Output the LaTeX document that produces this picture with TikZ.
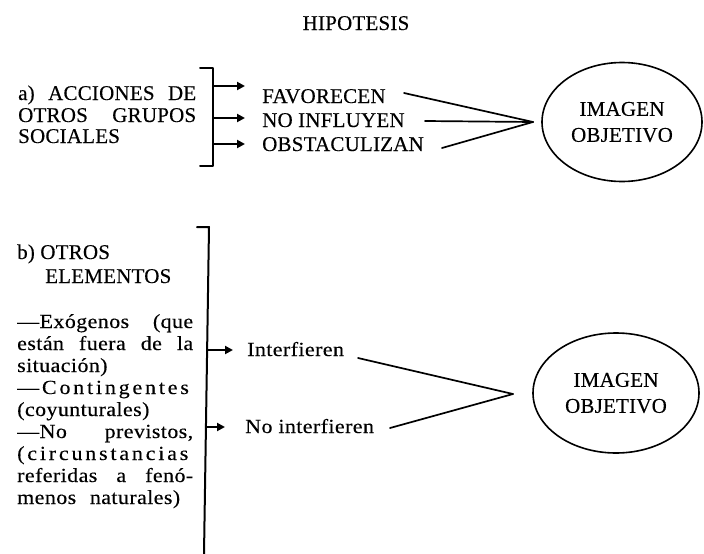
\documentclass[tikz,border=0pt]{standalone}
\usepackage{fontspec}
\setmainfont{Liberation Serif}
\newfontfamily\capsfont[FakeStretch=1.0,LetterSpace=1,FakeBold=0.3]{Liberation Serif}
\newfontfamily\lowfont[FakeStretch=1.1,LetterSpace=2,FakeBold=0.3]{Liberation Serif}
\newfontfamily\lowwide[FakeStretch=1.1,LetterSpace=14,FakeBold=0.3]{Liberation Serif}
\usetikzlibrary{arrows.meta,shapes.geometric}
\begin{document}
\begin{tikzpicture}[x=1pt,y=-1pt,
  caps/.style={font=\capsfont\fontsize{21}{22}\selectfont, inner sep=0pt, anchor=base west},
  low/.style={font=\lowfont\fontsize{20}{22}\selectfont, inner sep=0pt, anchor=base west},
  lowsp/.style={font=\lowwide\fontsize{20}{22}\selectfont, inner sep=0pt, anchor=base west},
  brk/.style={line width=2pt, line cap=round, line join=round},
  barrow/.style={line width=2.2pt, -{Triangle[length=8pt,width=8pt]}},
  conn/.style={line width=1.7pt, line cap=round},
  goal/.style={ellipse, draw, line width=1.6pt, inner sep=0pt, align=center,
    font=\capsfont\fontsize{21}{26}\selectfont}]
\useasboundingbox (0,0) rectangle (704,554);

% title
\node[font=\capsfont\fontsize{21}{22}\selectfont, inner sep=0pt, anchor=base] (title) at (356,30) {HIPOTESIS};

% ---------- part a ----------
\node[caps] (a1) at (18,100) {\makebox[178pt][s]{a) ACCIONES DE}};
\node[caps] (a2) at (18,122) {\makebox[178pt][s]{OTROS GRUPOS}};
\node[caps] (a3) at (18,143) {SOCIALES};

\coordinate (bt1) at (200,68);
\coordinate (bt2) at (213,68);
\coordinate (bb2) at (213,166);
\coordinate (bb1) at (200,166);
\draw[brk] (bt1) -- (bt2) -- (bb2) -- (bb1);

\coordinate (s1) at (213,86);
\coordinate (s2) at (213,118);
\coordinate (s3) at (213,144);
\coordinate (e1) at (245,86);
\coordinate (e2) at (245,118);
\coordinate (e3) at (245,144);
\draw[barrow] (s1) -- (e1);
\draw[barrow] (s2) -- (e2);
\draw[barrow] (s3) -- (e3);

\node[caps] (fav) at (262,103) {FAVORECEN};
\node[caps] (noinf) at (262,127) {NO INFLUYEN};
\node[caps] (obs) at (262,151) {OBSTACULIZAN};

\node[goal, minimum width=160pt, minimum height=119pt] (img1) at (622,122) {IMAGEN\\OBJETIVO};

\coordinate (c1) at (404,93);
\coordinate (c2) at (425,121);
\coordinate (c3) at (442,148);
\coordinate (conv1) at (533,122);
\draw[conn] (c1) -- (conv1);
\draw[conn] (c2) -- (conv1);
\draw[conn] (c3) -- (conv1);

% ---------- part b ----------
\node[caps] (b1) at (17,259) {b) OTROS};
\node[caps] (b2) at (45,283) {ELEMENTOS};

\node[low] (l1) at (17,328) {\makebox[176pt][s]{—Exógenos (que}};
\node[low] (l2) at (17,350) {\makebox[176pt][s]{están fuera de la}};
\node[low] (l3) at (17,372) {situación)};
\node[lowsp] (l4) at (17,394) {—Contingentes};
\node[low] (l5) at (17,416) {(coyunturales)};
\node[low] (l6) at (17,438) {\makebox[176pt][s]{—No previstos,}};
\node[lowsp] (l7) at (17,460) {(circunstancias};
\node[low] (l8) at (17,482) {\makebox[176pt][s]{referidas a fenó-}};
\node[low] (l9) at (17,504) {\makebox[163pt][s]{menos naturales)}};

\coordinate (dt1) at (197,227);
\coordinate (dt2) at (209,227);
\coordinate (db) at (204,554);
\draw[brk] (dt1) -- (dt2) -- (db);

\coordinate (u1) at (207,350);
\coordinate (u2) at (206,427);
\coordinate (v1) at (233,350);
\coordinate (v2) at (225,427);
\draw[barrow] (u1) -- (v1);
\draw[barrow] (u2) -- (v2);

\node[low] (int) at (247,356) {Interfieren};
\node[low] (noint) at (245,433) {No interfieren};

\node[goal, minimum width=166pt, minimum height=120pt] (img2) at (616,393) {IMAGEN\\OBJETIVO};

\coordinate (d1) at (358,358);
\coordinate (d2) at (390,428);
\coordinate (conv2) at (513,394);
\draw[conn] (d1) -- (conv2);
\draw[conn] (d2) -- (conv2);
\end{tikzpicture}
\end{document}
